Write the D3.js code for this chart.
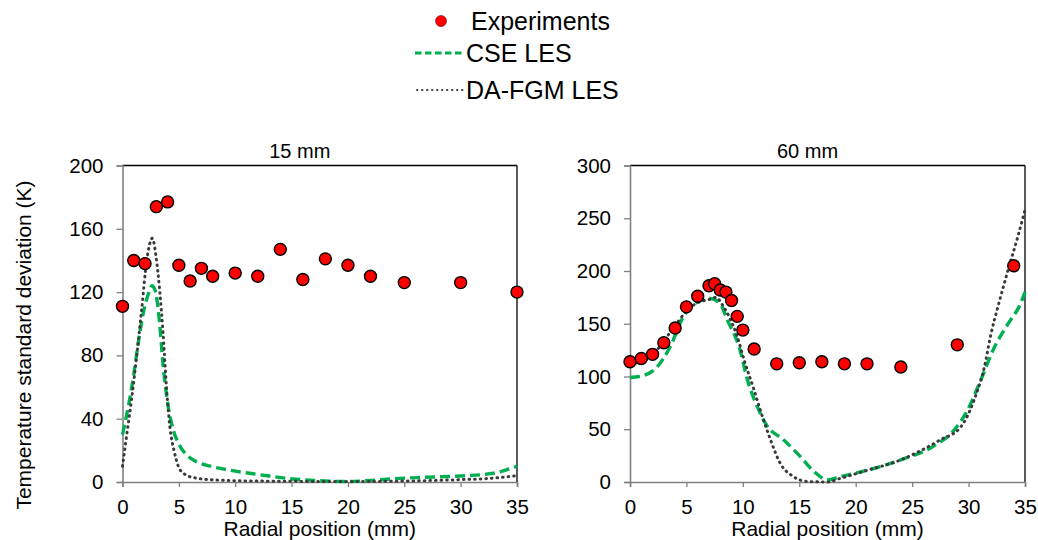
<!DOCTYPE html>
<html>
<head>
<meta charset="utf-8">
<script src="https://cdn.jsdelivr.net/npm/d3@7"></script>
<style>
  html, body { margin: 0; padding: 0; background: #fff; }
  svg { display: block; font-family: "Liberation Sans", Arial, Helvetica, sans-serif; }
</style>
</head>
<body>
<svg id="chart" width="1038" height="540"></svg>
<script>
// Temperature standard deviation profiles at two axial stations

// Station 15 mm
const exp15X = [0, 1, 2, 3, 4, 5, 6, 7, 8, 10, 12, 14, 16, 18, 20, 22, 25, 30, 35];
const exp15Y = [111, 140, 138, 174, 177, 137, 127, 135, 130, 132, 130, 147, 128, 141, 137, 130, 126, 126, 120];

const cse15X = [0, 0.5, 1.0, 1.4, 1.85, 2.3, 2.6, 2.9, 3.3, 3.6, 4.05, 4.5, 5.0, 5.7, 6.5, 7.8, 9.5, 11.3, 13, 14.6, 17, 20, 22, 24.6, 27, 30, 32.9, 34, 35];
const cse15Y = [30, 47, 68, 88, 107, 119, 124, 121, 100, 74, 48, 33, 24, 17, 13, 10, 7.5, 5.5, 3.8, 2.3, 1, 0.3, 1, 2.3, 3, 3.8, 5.5, 7.5, 10];

const fgm15X = [0, 0.4, 0.8, 1.25, 1.7, 2.15, 2.65, 3.0, 3.3, 3.6, 3.9, 4.2, 4.6, 4.95, 5.5, 6.5, 8.4, 12, 20, 30, 33, 35];
const fgm15Y = [10, 31, 52, 79, 109, 140, 154, 141, 121, 94, 60, 35, 19, 10, 5, 2.5, 1.2, 0.6, 0.3, 1.5, 2.5, 4];

// Station 60 mm
const exp60X = [0, 1, 2, 3, 4, 5, 6, 7, 7.5, 8, 8.5, 9, 9.5, 10, 11, 13, 15, 17, 19, 21, 24, 29, 34];
const exp60Y = [114, 117, 121, 132, 146, 166, 176, 186, 188, 182, 180, 172, 157, 144, 126, 112, 113, 114, 112, 112, 109, 130, 205];

const cse60X = [0, 1.2, 2.4, 3.55, 4.75, 5.9, 7.1, 8.0, 8.6, 9.7, 10.4, 11.3, 12.1, 13.6, 15.1, 16.3, 17.5, 18.6, 21, 24, 26.9, 28.7, 29.9, 31.1, 32.3, 33.5, 34.6, 35];
const cse60Y = [99, 101, 109, 128, 157, 170, 174, 169, 154, 127, 97, 71, 54, 40, 24, 10, 2, 5, 11, 21, 34, 49, 68, 97, 128, 150, 169, 180];

const fgm60X = [0, 1, 2, 3, 4, 5, 6, 7, 7.6, 8.3, 8.9, 9.5, 10.1, 11, 11.55, 12.45, 13.3, 14.5, 15.7, 17.5, 18.65, 21, 24, 27.5, 29.3, 30.5, 31.4, 32, 32.6, 33.5, 34.35, 35];
const fgm60Y = [112, 114, 120, 134, 148, 162, 170, 173, 175, 166, 154, 138, 116, 87, 68, 40, 18, 5, 0.5, 0, 3.5, 11, 21, 40, 52, 78, 109, 141, 166, 201, 232, 258];

// Axis ticks
const xTicks = [0, 5, 10, 15, 20, 25, 30, 35];
const yTicks15 = [0, 40, 80, 120, 160, 200];
const yTicks60 = [0, 50, 100, 150, 200, 250, 300];

const panelTitles = ["15 mm", "60 mm"];
const legendLabels = ["Experiments", "CSE LES", "DA-FGM LES"];

const RED = "#ff0000";
const GREEN = "#00b050";
const DOT = "#3a3a3a";

const svg = d3.select("#chart");

const zip = (xs, ys) => xs.map((x, i) => [x, ys[i]]);

function drawPanel(cfg) {
  const { left, right, top, bottom, yMax, yTicks, title, exp, cse, fgm } = cfg;
  const x = d3.scaleLinear().domain([0, 35]).range([left, right]);
  const y = d3.scaleLinear().domain([0, yMax]).range([bottom, top]);
  const g = svg.append("g");

  // frame: top & right in black
  g.append("line").attr("x1", left).attr("x2", right).attr("y1", top).attr("y2", top)
    .attr("stroke", "#000").attr("stroke-width", 1.3);
  g.append("line").attr("x1", right).attr("x2", right).attr("y1", top).attr("y2", bottom)
    .attr("stroke", "#000").attr("stroke-width", 1.3);

  // left axis
  const ya = g.append("g").attr("transform", `translate(${left},0)`)
    .call(d3.axisLeft(y).tickValues(yTicks).tickSize(6).tickPadding(13).tickFormat(d3.format("d")));
  ya.select(".domain").attr("stroke", "#808080").attr("stroke-width", 1.6);
  ya.selectAll(".tick line").attr("stroke", "#808080").attr("stroke-width", 1.3);
  ya.selectAll(".tick text").attr("font-size", 20.5).attr("fill", "#000")
    .attr("font-family", "Liberation Sans, Arial, sans-serif");

  // bottom axis
  const xa = g.append("g").attr("transform", `translate(0,${bottom})`)
    .call(d3.axisBottom(x).tickValues(xTicks).tickSize(5).tickPadding(12));
  xa.select(".domain").attr("stroke", "#808080").attr("stroke-width", 1.6);
  xa.selectAll(".tick line").attr("stroke", "#808080").attr("stroke-width", 1.3);
  xa.selectAll(".tick text").attr("font-size", 20.5).attr("fill", "#000")
    .attr("font-family", "Liberation Sans, Arial, sans-serif");

  // x-axis title
  g.append("text").attr("x", (left + right) / 2).attr("y", 536)
    .attr("text-anchor", "middle").attr("font-size", 21).text("Radial position (mm)");

  // panel title
  g.append("text").attr("x", (left + right) / 2 - 20).attr("y", 158)
    .attr("text-anchor", "middle").attr("font-size", 20).text(title);

  const line = d3.line().x(d => x(d[0])).y(d => y(d[1])).curve(d3.curveMonotoneX);

  g.append("path").datum(cse).attr("d", line)
    .attr("fill", "none").attr("stroke", GREEN).attr("stroke-width", 3.4)
    .attr("stroke-dasharray", "10 5");
  // round caps on near-zero dashes give a row of dots
  g.append("path").datum(fgm).attr("d", line)
    .attr("fill", "none").attr("stroke", DOT).attr("stroke-width", 3)
    .attr("stroke-linecap", "round").attr("stroke-dasharray", "0.6 5");

  g.append("g").selectAll("circle").data(exp).join("circle")
    .attr("cx", d => x(d[0])).attr("cy", d => y(d[1])).attr("r", 6)
    .attr("fill", RED).attr("stroke", "#000").attr("stroke-width", 1.4);
}

drawPanel({
  left: 122.5, right: 517, top: 165.5, bottom: 482, yMax: 200, yTicks: yTicks15,
  title: panelTitles[0],
  exp: zip(exp15X, exp15Y), cse: zip(cse15X, cse15Y), fgm: zip(fgm15X, fgm15Y)
});
drawPanel({
  left: 630, right: 1025, top: 165.5, bottom: 482, yMax: 300, yTicks: yTicks60,
  title: panelTitles[1],
  exp: zip(exp60X, exp60Y), cse: zip(cse60X, cse60Y), fgm: zip(fgm60X, fgm60Y)
});

// shared y-axis title
svg.append("text")
  .attr("transform", "translate(31,345) rotate(-90)")
  .attr("text-anchor", "middle").attr("font-size", 21)
  .text("Temperature standard deviation (K)");

// legend
const lg = svg.append("g").attr("font-size", 25);
lg.append("circle").attr("cx", 441).attr("cy", 21).attr("r", 5.5)
  .attr("fill", RED).attr("stroke", "#600").attr("stroke-width", 0.6);
lg.append("text").attr("x", 471).attr("y", 29.5).text(legendLabels[0]);

lg.append("line").attr("x1", 415).attr("x2", 464).attr("y1", 53).attr("y2", 53)
  .attr("stroke", GREEN).attr("stroke-width", 3).attr("stroke-dasharray", "6.5 3.5");
lg.append("text").attr("x", 466).attr("y", 62).text(legendLabels[1]);

lg.append("line").attr("x1", 417).attr("x2", 463).attr("y1", 90).attr("y2", 90)
  .attr("stroke", DOT).attr("stroke-width", 2).attr("stroke-linecap", "round")
  .attr("stroke-dasharray", "0.4 4.6");
lg.append("text").attr("x", 466).attr("y", 99).text(legendLabels[2]);
</script>
</body>
</html>
